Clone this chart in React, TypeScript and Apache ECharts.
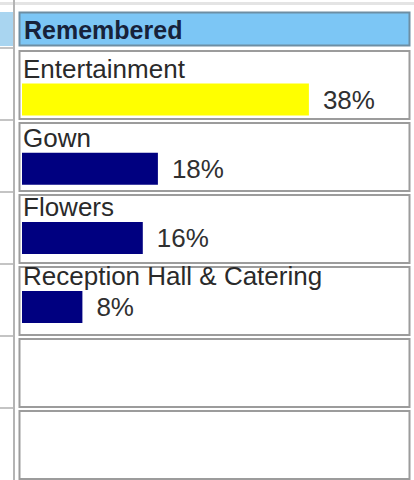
import React, { useEffect, useRef } from "react";
import * as echarts from "echarts";

const headerTitle = "Remembered";
const categories = ["Entertainment", "Gown", "Flowers", "Reception Hall & Catering", "", ""];
const values: (number | null)[] = [38, 18, 16, 8, null, null];
const barColors = ["#FFFF00", "#000080", "#000080", "#000080", "#000080", "#000080"];
const axisMax = 50;

const FONT = "'Liberation Sans', Arial, sans-serif";
const GRID_TOP = 65;
const BAND = 72;
const GRID_LEFT = 22;

export default function App() {
  const ref = useRef<HTMLDivElement>(null);
  useEffect(() => {
    if (!ref.current) return;
    const chart = echarts.init(ref.current, undefined, { renderer: "svg" });
    const n = categories.length;
    const graphics: any[] = [];
    graphics.push({ type: "rect", shape: { x: 0, y: 2, width: 414, height: 3 }, style: { fill: "#e4e4e4" }, silent: true });
    graphics.push({ type: "rect", shape: { x: 13, y: 0, width: 2, height: 480 }, style: { fill: "#b4b4b4" }, silent: true });
    graphics.push({ type: "rect", shape: { x: 0, y: 12, width: 13, height: 34 }, style: { fill: "#a9d5f0" }, silent: true });
    graphics.push({
      type: "rect",
      shape: { x: 19.5, y: 12.5, width: 390, height: 33 },
      style: { fill: "#7cc6f5", stroke: "#6d8ea3", lineWidth: 2 },
      silent: true,
    });
    graphics.push({
      type: "text",
      x: 24,
      y: 30,
      style: { text: headerTitle, font: `bold 25px ${FONT}`, fill: "#17223a", textVerticalAlign: "middle", textAlign: "left" },
      silent: true,
    });
    for (let i = 0; i < n; i++) {
      const c = GRID_TOP + BAND / 2 + BAND * i;
      graphics.push({
        type: "rect",
        shape: { x: 19.5, y: c - 50, width: 390, height: 68 },
        style: { fill: "#ffffff", stroke: "#9c9c9c", lineWidth: 2 },
        silent: true,
      });
      graphics.push({ type: "rect", shape: { x: 0, y: c - 54, width: 13, height: 2 }, style: { fill: "#c4c4c4" }, silent: true });
    }

    chart.setOption({
      animation: false,
      backgroundColor: "#ffffff",
      graphic: graphics,
      grid: { left: GRID_LEFT, top: GRID_TOP, width: axisMax * 7.55, height: BAND * n, containLabel: false },
      xAxis: { type: "value", min: 0, max: axisMax, show: false },
      yAxis: {
        type: "category",
        data: categories,
        inverse: true,
        axisLine: { show: false },
        axisTick: { show: false },
        splitLine: { show: false },
        axisLabel: {
          inside: true,
          interval: 0,
          margin: 1,
          align: "left",
          verticalAlign: "middle",
          formatter: (v: string) => (v ? `{t|${v}}\n{s| }` : ""),
          rich: {
            t: { fontSize: 26, fontFamily: FONT, color: "#2a2a2a", lineHeight: 30 },
            s: { fontSize: 1, lineHeight: 62 },
          },
        },
        z: 5,
      },
      series: [
        {
          type: "bar",
          barWidth: 32,
          z: 3,
          data: values.map((v, i) => ({ value: v, itemStyle: { color: barColors[i] } })),
          label: {
            show: true,
            position: "right",
            distance: 14,
            formatter: "{c}%",
            fontSize: 26,
            fontFamily: FONT,
            color: "#303030",
          },
        },
      ],
    });
    return () => chart.dispose();
  }, []);
  return <div ref={ref} style={{ position: "fixed", left: 0, top: 0, width: 414, height: 480 }} />;
}
